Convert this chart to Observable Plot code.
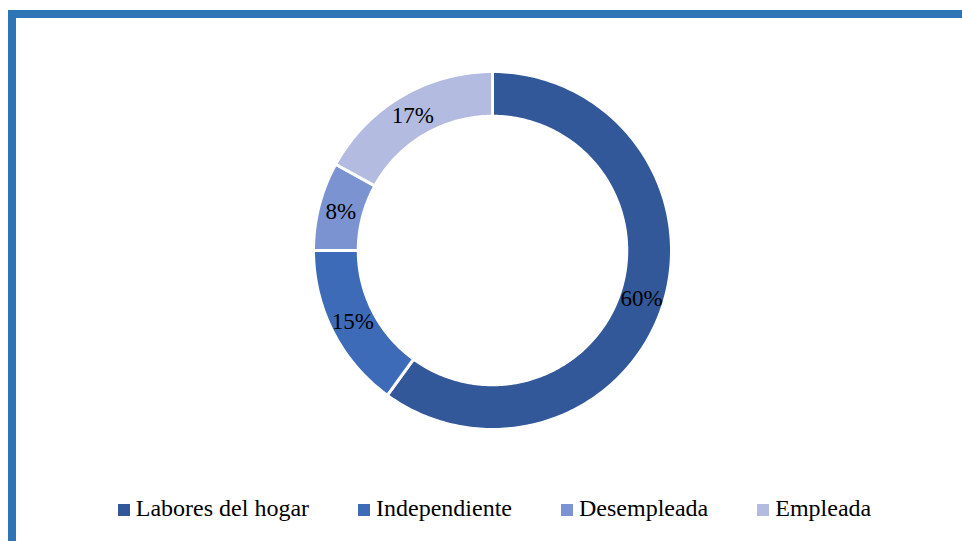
<!DOCTYPE html>
<html>
<head>
<meta charset="utf-8">
<script src="https://cdn.jsdelivr.net/npm/d3@7"></script>
<script src="https://cdn.jsdelivr.net/npm/@observablehq/plot@0.6"></script>
<style>
  html, body { margin: 0; padding: 0; background: #fff; }
  #frame { position: absolute; left: 8px; top: 10px; width: 954px; height: 531px;
           border-top: 8px solid #2e75b6; border-left: 8px solid #2e75b6; box-sizing: border-box; }
  #chart { position: absolute; left: 0; top: 0; }
  #legend { position: absolute; left: 0; top: 496px; width: 989px; display: flex; justify-content: center;
            gap: 49px; font-family: "Liberation Serif", "Times New Roman", serif; font-size: 24px;
            line-height: 24px; color: #000; white-space: nowrap; }
  .item { display: block; }
  .sw { display: inline-block; width: 12px; height: 12px; margin-right: 6px; vertical-align: baseline; }
</style>
</head>
<body>
<div id="frame"></div>
<div id="chart"></div>
<div id="legend"></div>
<script>
const categories = ["Labores del hogar", "Independiente", "Desempleada", "Empleada"];
const values = [60, 15, 8, 17];
const labels = ["60%", "15%", "8%", "17%"];
const colors = ["#335899", "#3d6bb8", "#7b93d0", "#b3bce0"];

const outerR = 1.0;
const innerR = 0.75;
const total = d3.sum(values);

const arcPts = [];
const labelPts = [];
let cum = 0;
categories.forEach((c, i) => {
  const a0 = 2 * Math.PI * cum / total;
  cum += values[i];
  const a1 = 2 * Math.PI * cum / total;
  const n = Math.max(2, Math.ceil((a1 - a0) * 180 / Math.PI));
  for (let k = 0; k <= n; k++) {
    const a = a0 + (a1 - a0) * k / n;
    arcPts.push({category: c, x: outerR * Math.sin(a), y: outerR * Math.cos(a)});
  }
  for (let k = n; k >= 0; k--) {
    const a = a0 + (a1 - a0) * k / n;
    arcPts.push({category: c, x: innerR * Math.sin(a), y: innerR * Math.cos(a)});
  }
  const am = (a0 + a1) / 2, rm = (outerR + innerR) / 2;
  labelPts.push({category: c, label: labels[i], x: rm * Math.sin(am), y: rm * Math.cos(am)});
});

const R = 179;
const cx = 492, cy = 250;
const W = 962, H = 470;

const chart = Plot.plot({
  width: W,
  height: H,
  marginLeft: cx - R,
  marginRight: W - (cx + R),
  marginTop: cy - R,
  marginBottom: H - (cy + R),
  x: {domain: [-1, 1], axis: null},
  y: {domain: [-1, 1], axis: null},
  color: {domain: categories, range: colors},
  style: {fontFamily: "Liberation Serif, serif", background: "transparent"},
  marks: [
    Plot.line(arcPts, {x: "x", y: "y", z: "category", fill: "category", stroke: "white", strokeWidth: 3, curve: "linear-closed"}),
    Plot.text(labelPts, {x: "x", y: "y", text: "label", fontSize: 23, fill: "black", fontFamily: "Liberation Serif, serif"})
  ]
});
document.getElementById("chart").appendChild(chart);

const legend = document.getElementById("legend");
categories.forEach((c, i) => {
  const it = document.createElement("div");
  it.className = "item";
  const sw = document.createElement("span");
  sw.className = "sw";
  sw.style.background = colors[i];
  const tx = document.createElement("span");
  tx.textContent = c;
  it.appendChild(sw);
  it.appendChild(tx);
  legend.appendChild(it);
});
</script>
</body>
</html>
